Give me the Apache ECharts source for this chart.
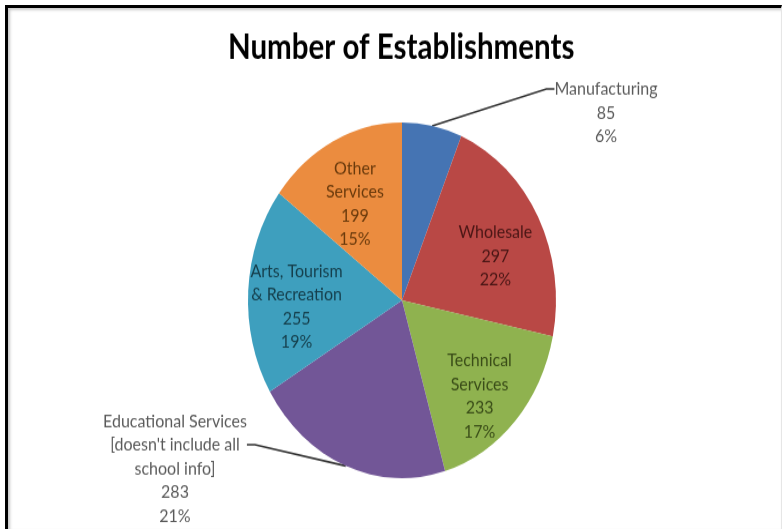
<!DOCTYPE html>
<html><head><meta charset="utf-8">
<script src="https://cdn.jsdelivr.net/npm/echarts@6/dist/echarts.min.js"></script>
<style>
html,body{margin:0;padding:0;background:#fff;overflow:hidden;width:782px;height:529px}
#chart{position:absolute;left:0;top:0;width:782px;height:458px;transform:scaleY(1.155);transform-origin:0 0}
#frame{position:absolute;left:5px;top:5px;width:777px;height:524px;border-left:3px solid #000;border-top:3px solid #000;border-right:1px solid #e6e6e6;box-sizing:border-box;box-shadow:inset 2px 2px 3px #c8c8c8;pointer-events:none}
</style></head><body>
<div id="chart"></div><div id="frame"></div>
<script>
const titleText = 'Number of Establishments';
const categories = ['Manufacturing', 'Wholesale', 'Technical\nServices', "Educational Services\n[doesn't include all\nschool info]", 'Arts, Tourism\n& Recreation', 'Other\nServices'];
const values = [85, 297, 233, 283, 255, 199];
const sliceColors = ['#4574B3', '#B94845', '#8FB24F', '#725697', '#3E9FBE', '#EB8C3F'];
const labelColors = ['#5a5a5a', '#4a1615', '#3a4d18', '#5a5a5a', '#153f4c', '#6a3a0c'];
const outsideIdx = [0, 3];

const CX = 402, CY = 260, R = 154;
// label anchor positions for the two outside labels (centre of the label block)
const outsidePos = {0: [606, 77], 3: [175, 385]};

const chart = echarts.init(document.getElementById('chart'), null, {renderer: 'canvas'});
chart.setOption({
  backgroundColor: 'transparent',
  animation: false,
  title: {
    text: titleText, left: 223, top: 21,
    textStyle: {fontFamily: 'Lato', fontWeight: 'bold', fontSize: 29.5, color: '#000'}
  },
  series: [{
    type: 'pie',
    center: [CX, CY],
    radius: R,
    startAngle: 90,
    clockwise: true,
    percentPrecision: 0,
    label: {
      position: 'inner',
      formatter: '{b}\n{c}\n{d}%',
      fontFamily: 'Lato',
      fontSize: 16,
      lineHeight: 20.5,
      align: 'center'
    },
    labelLine: {show: false},
    itemStyle: {borderWidth: 0},
    data: categories.map((n, i) => {
      const out = outsideIdx.indexOf(i) >= 0;
      return {
        name: n, value: values[i],
        itemStyle: {color: sliceColors[i]},
        label: out ? {
          position: 'outside', color: labelColors[i], align: 'center',
          // two empty lines above so the guide line meets the label at the right row
          formatter: '\n\n{b}\n{c}\n{d}%'
        } : {color: labelColors[i]},
        labelLine: out ? {show: true, length: 15, length2: 8, lineStyle: {color: '#303030', width: 1.6}} : {show: false}
      };
    }),
    labelLayout: function (p) {
      if (outsidePos[p.dataIndex]) {
        const q = outsidePos[p.dataIndex];
        return {x: q[0], y: q[1], align: 'center', verticalAlign: 'middle'};
      }
      const lx = p.labelRect.x + p.labelRect.width / 2;
      const ly = p.labelRect.y + p.labelRect.height / 2;
      return {x: CX + (lx - CX) * 1.32, y: CY + (ly - CY) * 1.32 + 11, align: 'center', verticalAlign: 'middle'};
    }
  }]
});
</script>
</body></html>
